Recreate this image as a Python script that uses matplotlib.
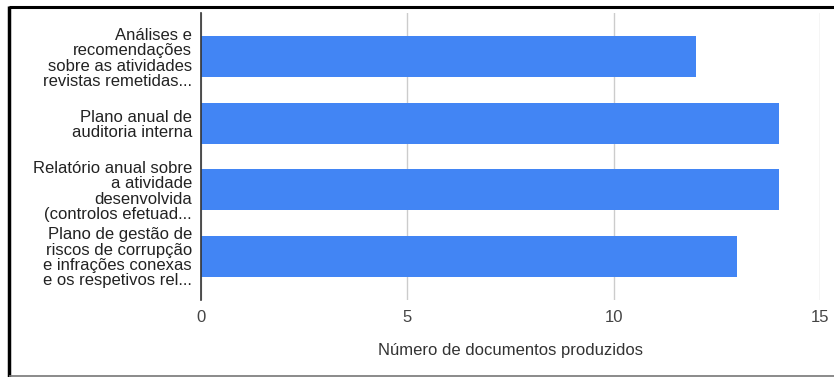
import matplotlib.pyplot as plt
from matplotlib.lines import Line2D

plt.rcParams['font.family'] = ['Liberation Sans', 'DejaVu Sans']

# documents produced per type
categorias = [
    "Análises e\nrecomendações\nsobre as atividades\nrevistas remetidas...",
    "Plano anual de\nauditoria interna",
    "Relatório anual sobre\na atividade\ndesenvolvida\n(controlos efetuad...",
    "Plano de gestão de\nriscos de corrupção\ne infrações conexas\ne os respetivos rel...",
]
valores = [12, 14, 14, 13]
xticks = [0, 5, 10, 15]

W, H = 834, 377
fig = plt.figure(figsize=(W / 100, H / 100), dpi=100)
ax = fig.add_axes([201 / W, 1 - 300 / H, (820 - 201) / W, (300 - 13) / H])

pos = list(range(len(categorias)))
ax.barh(pos, valores, height=0.62, color='#4285f4', zorder=3)

ax.set_xlim(0, 15)
ax.set_ylim(3.66, -0.66)
ax.set_xticks(xticks)
ax.set_xticklabels([str(t) for t in xticks])
ax.set_yticks(pos)
ax.set_yticklabels(categorias, fontsize=12, color='#222222', linespacing=1.03,
                   multialignment='right')
ax.xaxis.grid(True, color='#cccccc', linewidth=1, zorder=0)

for s in ['top', 'right', 'bottom']:
    ax.spines[s].set_visible(False)
ax.spines['left'].set_color('#333333')
ax.spines['left'].set_linewidth(1.2)
ax.spines['left'].set_zorder(4)

ax.tick_params(axis='x', length=0, pad=7, labelsize=12, labelcolor='#444444')
ax.tick_params(axis='y', length=0, pad=6.5)
ax.set_xlabel("Número de documentos produzidos", fontsize=12, color='#333333', labelpad=13)

# frame around the figure
fig.add_artist(Line2D([9 / W, 9 / W], [0, 1 - 6 / H], color='black', linewidth=2.5,
                      solid_capstyle='butt', transform=fig.transFigure))
fig.add_artist(Line2D([9 / W, 1], [1 - 7 / H, 1 - 7 / H], color='black', linewidth=2.2,
                      solid_capstyle='butt', transform=fig.transFigure))
fig.add_artist(Line2D([9 / W, 1], [1 - 375.5 / H, 1 - 375.5 / H], color='#777777', linewidth=1.2,
                      solid_capstyle='butt', transform=fig.transFigure))

fig.savefig('out.png', dpi=100)
